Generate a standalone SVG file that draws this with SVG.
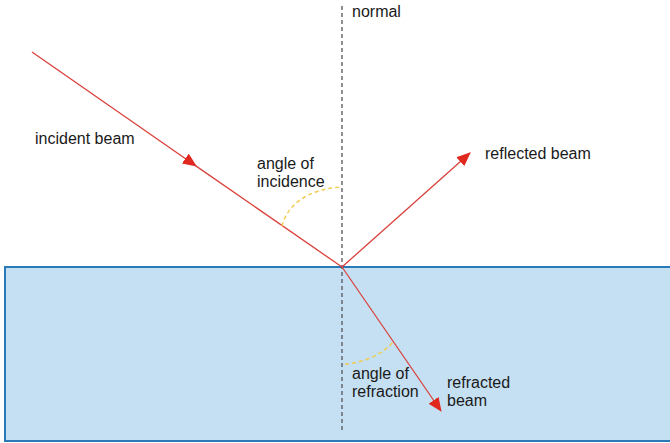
<svg xmlns="http://www.w3.org/2000/svg" width="670" height="443" viewBox="0 0 670 443">
  <style>
    .lbl { font-family: "Liberation Sans", Arial, sans-serif; font-size: 16px; fill: #1a1a1a; }
    .beam { stroke: #d9403a; stroke-width: 1.3; fill: none; }
    .arc { stroke: #f0cc50; stroke-width: 1.5; fill: none; stroke-dasharray: 4 3; }
    .normal { stroke: #555; stroke-width: 1.3; stroke-dasharray: 4 3; fill: none; }
  </style>
  <defs>
    <marker id="arrow" markerUnits="userSpaceOnUse" markerWidth="14" markerHeight="12" refX="13" refY="6" orient="auto">
      <path d="M0,0 L14,6 L0,12 z" fill="#e0281e"/>
    </marker>
  </defs>
  <rect width="670" height="443" fill="#ffffff"/>

  <g id="medium">
    <rect x="5" y="267" width="670" height="174" fill="#c5e0f2" stroke="#2a7ab8" stroke-width="2"/>
  </g>

  <g id="normal-line">
    <line class="normal" x1="342" y1="6" x2="342" y2="430"/>
    <text class="lbl" x="352" y="17">normal</text>
  </g>

  <g id="connectors">
    <line class="beam" x1="32" y1="52" x2="196" y2="166" marker-end="url(#arrow)"/>
    <line class="beam" x1="194" y1="164.6" x2="342" y2="267"/>
    <line class="beam" x1="342" y1="267" x2="470" y2="153" marker-end="url(#arrow)"/>
    <line class="beam" x1="342" y1="267" x2="441" y2="411" marker-end="url(#arrow)"/>
  </g>

  <g id="angle-incidence">
    <path class="arc" d="M282,226 C287,205 308,189 341,187"/>
    <text class="lbl" x="257" y="169">angle of</text>
    <text class="lbl" x="257" y="187">incidence</text>
  </g>

  <g id="angle-refraction">
    <path class="arc" d="M345,364 C363,363 383,354 393,342"/>
    <text class="lbl" x="352" y="379">angle of</text>
    <text class="lbl" x="352" y="397">refraction</text>
  </g>

  <g id="incident-beam">
    <text class="lbl" x="35" y="144">incident beam</text>
  </g>

  <g id="reflected-beam">
    <text class="lbl" x="485" y="159">reflected beam</text>
  </g>

  <g id="refracted-beam">
    <text class="lbl" x="447" y="388">refracted</text>
    <text class="lbl" x="447" y="406">beam</text>
  </g>
</svg>
